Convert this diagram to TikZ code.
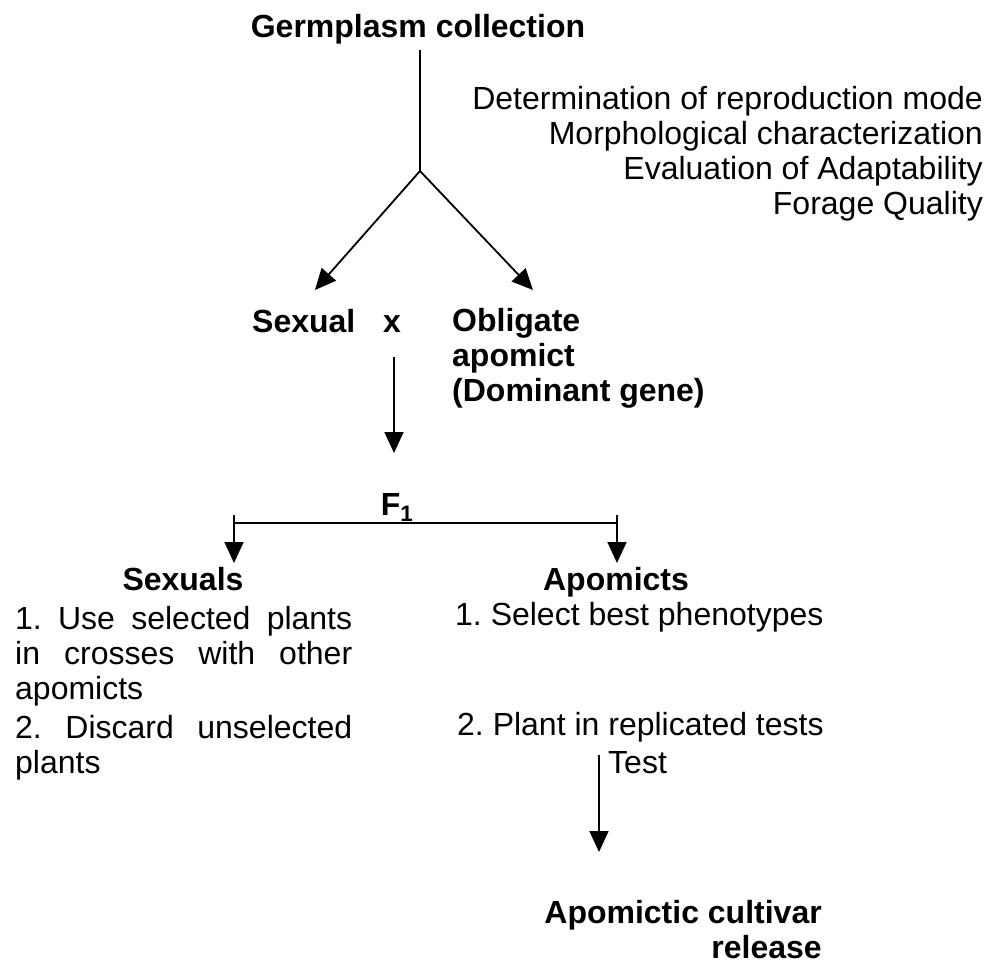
\documentclass[tikz,border=0pt]{standalone}
\usepackage{fontspec}
\setmainfont{Liberation Sans}
\frenchspacing
\usetikzlibrary{arrows.meta}
\tikzset{
  txt/.style={inner sep=0pt, font=\fontsize{32}{35}\selectfont\frenchspacing},
  btxt/.style={txt, font=\fontsize{32}{35}\selectfont\bfseries\frenchspacing},
  conn/.style={line width=1.8pt},
  arr/.style={conn, -{Triangle[length=21pt,width=19pt]}}
}
\begin{document}
\begin{tikzpicture}[x=1pt,y=-1pt]
\useasboundingbox (0,0) rectangle (1001,964);
% top (multi-line nodes: base anchor = last line's baseline)
\node[btxt, anchor=base] (germ) at (418,37) {Germplasm collection};
\coordinate (gtop) at (420,50);
\coordinate (split) at (420,171);
\node[txt, anchor=base east, align=right] (traits) at (983,214)
  {Determination of reproduction mode\\Morphological characterization\\Evaluation of Adaptability\\Forage Quality};
% parents
\node[btxt, anchor=base west] (sexual) at (252,332) {Sexual};
\node[btxt, anchor=base west] (cross) at (383,332) {x};
\node[btxt, anchor=base west, align=left] (apo) at (452,401) {Obligate\\apomict\\(Dominant gene)};
\coordinate (ltip) at (315,290);
\coordinate (rtip) at (533,290);
\draw[conn] (gtop) -- (split);
\draw[arr] (split) -- (ltip);
\draw[arr] (split) -- (rtip);
% F1
\coordinate (mtop) at (394,357);
\coordinate (mtip) at (394,453);
\draw[arr] (mtop) -- (mtip);
\node[btxt, anchor=base] (f1) at (397,515) {F\textsubscript{1}};
\coordinate (hl) at (234,523);
\coordinate (hr) at (617,523);
\coordinate (hlt) at (234,515);
\coordinate (hrt) at (617,515);
\coordinate (hlb) at (234,563);
\coordinate (hrb) at (617,563);
\draw[conn] (hl) -- (hr);
\draw[arr] (hlt) -- (hlb);
\draw[arr] (hrt) -- (hrb);
% branches
\node[btxt, anchor=base] (sexuals) at (183,590) {Sexuals};
\node[btxt, anchor=base] (apomicts) at (616,590) {Apomicts};
\node[txt, anchor=base west, align=left] (sbody) at (15,773)
  {\makebox[337pt][s]{1. Use selected plants}\\
   \makebox[337pt][s]{in crosses with other}\\
   apomicts\\[4pt]
   \makebox[337pt][s]{2. Discard unselected}\\
   plants};
\node[txt, anchor=base west] (a1) at (455,625) {1. Select best phenotypes};
\node[txt, anchor=base west] (a2) at (457,735) {2. Plant in replicated tests};
\node[txt, anchor=base west] (test) at (608,773) {Test};
\coordinate (ttop) at (599,755);
\coordinate (ttip) at (599,852);
\draw[arr] (ttop) -- (ttip);
\node[btxt, anchor=base east, align=right] (release) at (822,958) {Apomictic cultivar\\release};
\end{tikzpicture}
\end{document}
